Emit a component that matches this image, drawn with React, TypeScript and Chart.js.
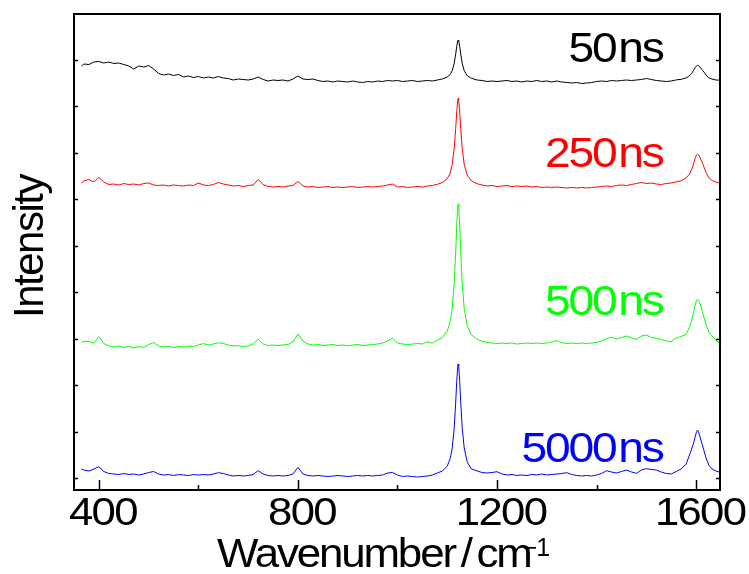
import React, { useEffect, useRef } from "react";
import { Chart, registerables } from "chart.js";

Chart.register(...registerables);

// Raman shift (cm^-1)
const wavenumbers = [
  365, 370, 380, 390, 400, 410, 420, 430, 440, 450,
  460, 470, 480, 490, 500, 510, 520, 530, 540, 550,
  560, 570, 580, 590, 600, 610, 620, 630, 640, 650,
  660, 670, 680, 690, 700, 710, 720, 730, 740, 750,
  760, 770, 780, 790, 800, 810, 820, 830, 840, 850,
  860, 870, 880, 890, 900, 910, 920, 930, 940, 950,
  960, 970, 980, 990, 1000, 1010, 1020, 1030, 1040, 1050,
  1060, 1070, 1080, 1090, 1100,
  1106, 1110, 1114, 1117, 1119, 1121, 1122, 1123, 1125, 1127, 1130, 1134, 1140, 1148, 1160, 1170,
  1180, 1190, 1200, 1210, 1220, 1230, 1240, 1250, 1260, 1270,
  1280, 1290, 1300, 1310, 1320, 1330, 1340, 1350, 1360, 1370,
  1380, 1390, 1400, 1410, 1420, 1430, 1440, 1450, 1460, 1470,
  1480, 1490, 1500, 1510, 1520, 1530, 1540, 1550,
  1560, 1570, 1580, 1586, 1591, 1595, 1598, 1601, 1603, 1605, 1608, 1612, 1616, 1620, 1626, 1632, 1640, 1646,
];

// Stacked intensities (a.u.)
const intensity50ns = [
  412, 414, 413.5, 416, 416.5, 415, 416, 414.5, 415, 413.5,
  412, 409, 412, 411, 412.5, 409, 404.5, 403, 404, 402.5,
  403.5, 401, 402, 400.5, 401.5, 400, 401, 400, 401.5, 400,
  399.5, 398, 399, 398.5, 398, 399, 401, 398.5, 397, 398,
  397.5, 398, 397, 399, 402, 399, 398.5, 399, 397.5, 396.5,
  397, 396, 397, 396.5, 396, 397, 396, 395.5, 396.5, 396,
  397, 396.5, 397.5, 397, 397.5, 396.5, 397, 397.5, 396.5, 397,
  397.5, 397, 398, 399, 401,
  403.6, 407.4, 414.8, 424.1, 431.6, 437.2, 438, 437.2, 431.6, 424.1, 414.8, 407.4, 402.4, 399.8, 398, 397.5,
  396.5, 397, 396.5, 397, 397.5, 396.5, 397, 396, 397, 396.5,
  397.5, 396.5, 397, 396, 397, 396, 395.5, 395, 395.5, 394.5,
  395, 395.5, 396.5, 397, 396.5, 397.5, 397, 397.5, 398, 397.5,
  398, 398.5, 399.5, 398.5, 397.5, 397, 396.5, 397,
  398.1, 398.7, 400.1, 402, 404.5, 407.7, 410.3, 412.2, 412.7, 412.2, 410.8, 408.3, 405.8, 403, 400.1, 398.9, 398, 397.8,
];

const intensity250ns = [
  294.7, 297, 298.5, 296, 300.5, 296, 293.5, 294, 293, 294.5,
  293.5, 294, 293, 294.5, 295, 293, 292.5, 293, 292, 293,
  292.5, 292, 293, 292.5, 295, 293, 292.5, 293.5, 295.5, 294,
  293, 292, 292.5, 291.5, 292.5, 293, 298.5, 293.5, 291.5, 291,
  291.5, 291, 292, 292.5, 296.5, 292, 291, 291.5, 290.5, 291,
  291.5, 290.5, 291, 290.5, 291, 291.5, 290.5, 291, 291.5, 291,
  291.5, 292, 293, 294, 291, 291.5, 290.5, 291, 291.5, 291,
  292, 292.5, 293.7, 295.4, 299.4,
  305, 313.8, 329.7, 349.8, 366, 377.9, 379.7, 377.9, 366, 349.8, 329.7, 313.8, 302.9, 297.3, 294.2, 293,
  292, 292.5, 291.5, 292, 292.5, 291.5, 292, 291.5, 292, 291,
  291.5, 290.5, 291, 290.5, 291, 290.5, 290, 290.5, 290, 290.5,
  290, 290.5, 291, 291.5, 292, 291.5, 292.5, 293, 292.5, 293.5,
  294.5, 295.5, 294.5, 295, 294, 293.5, 294.5, 295,
  296.1, 297.3, 300, 303.6, 308.4, 314.4, 319.5, 323.1, 324, 323.1, 320.4, 315.6, 310.8, 305.4, 300, 297.6, 295.8, 295,
];

const intensity500ns = [
  135.3, 136.5, 136.7, 134.7, 141.3, 134.5, 132, 131, 132, 130.5,
  131.5, 130, 131.5, 130.5, 133.5, 135.5, 132, 131, 131.5, 130.5,
  131.5, 131, 132, 131.5, 133, 134.5, 133, 134, 135.3, 134.5,
  133, 132, 132.5, 131.5, 132, 134, 138.7, 134, 132.5, 133,
  132.5, 133, 133.5, 136, 144, 137, 134, 133, 133.5, 132.5,
  133, 133.5, 132.5, 133, 132, 133, 133.5, 132.5, 133, 133.5,
  134, 135, 137, 139.7, 135, 134, 133.5, 134, 134.5, 134,
  136.3, 135, 137.8, 140.4, 146.9,
  156.5, 169.6, 194.8, 226.7, 252.3, 271.2, 274, 271.2, 252.3, 226.7, 194.8, 169.6, 152.3, 143.5, 138.6, 136.9,
  135.5, 135, 134.5, 135, 134.5, 135, 134, 134.5, 135, 134.5,
  135, 134.5, 135, 136, 137.3, 135.5, 134.5, 135, 134.5, 135,
  134.5, 135, 135.5, 137, 139.5, 140.7, 139, 140.5, 142, 140,
  138.7, 142, 143, 140.5, 139.7, 138.5, 137, 136.3,
  139.9, 141.6, 143.5, 150.4, 157.2, 165.6, 172.7, 177.7, 179, 177.7, 174, 167.2, 160.5, 153, 145.4, 142, 137.5, 135.5,
];

const intensity5000ns = [
  8.7, 8, 7, 9, 11.3, 6.5, 4.5, 4, 3.5, 4.5,
  3.5, 4, 3, 4, 5.5, 6.5, 4, 3, 3.5, 2.5,
  3.5, 3, 2.5, 3.5, 3, 3.5, 3, 4, 5.3, 4.5,
  3, 2, 2.5, 2, 2.5, 3.5, 7.3, 4, 2.5, 2,
  2.5, 2, 2.5, 4, 10.7, 4, 2.5, 2, 2.5, 2,
  1.5, 2, 2.5, 2, 1.5, 2, 2.5, 2, 2.5, 2,
  2.5, 3, 5, 5.5, 3, 1.5, 2, 1.5, 1, 1.5,
  2, 3, 5, 7, 11.9,
  19.6, 30.1, 50.3, 76, 96.6, 111.8, 114, 111.8, 96.6, 76, 50.3, 30.1, 16.2, 9.2, 7, 5.5,
  5, 5.5, 6.3, 4, 3, 3.5, 2.5, 3, 2.5, 3.5,
  3, 4, 3, 3.5, 4, 4.5, 5.3, 3.5, 2.5, 2,
  2.5, 2, 3, 4.5, 7.3, 6, 5, 6.5, 8, 6,
  4.7, 8, 9.3, 8.5, 8, 6, 4.5, 4,
  6.5, 9, 14, 22, 29, 35, 41, 46.5, 48, 46, 41, 34, 27, 20, 12.5, 9, 7, 6,
];

const seriesNames = ["50 ns", "250 ns", "500 ns", "5000 ns"];
const seriesValues = [intensity50ns, intensity250ns, intensity500ns, intensity5000ns];
const seriesColors = ["#000000", "#ff0000", "#00ff00", "#0000ff"];

const xTickValues = [400, 800, 1200, 1600];
const xMinorTickValues = [600, 1000, 1400];
const xTickLabels = ["400", "800", "1200", "1600"];
const yTickValues = [0, 46.44, 92.88, 139.32, 185.76, 232.2, 278.64, 325.08, 371.52, 417.96];

const xTitle = "Wavenumber / cm";
const xTitleSup = "\u22121";
const yTitle = "Intensity";

// label anchors (right edge wavenumber, baseline intensity)
const labelAnchorX = 1533;
const labelAnchorY = [416, 311.3, 163, 16.3];

const FONT = '"Liberation Sans", Arial, sans-serif';

function drawText(
  ctx: CanvasRenderingContext2D,
  text: string,
  x: number,
  y: number,
  size: number,
  opts: { align?: string; stretch?: number; spacing?: number; wordSpacing?: number; color?: string } = {}
) {
  const { align = "left", stretch = 1, spacing = 0, wordSpacing = 0, color = "#000" } = opts;
  ctx.save();
  ctx.font = `${size}px ${FONT}`;
  (ctx as any).letterSpacing = `${spacing}px`;
  (ctx as any).wordSpacing = `${wordSpacing}px`;
  ctx.fillStyle = color;
  ctx.textBaseline = "alphabetic";
  ctx.textAlign = "left";
  const w = ctx.measureText(text).width * stretch;
  let x0 = x;
  if (align === "center") x0 = x - w / 2;
  else if (align === "right") x0 = x - w;
  ctx.translate(x0, y);
  ctx.scale(stretch, 1);
  ctx.fillText(text, 0, 0);
  ctx.restore();
  return { x0, w };
}

const decorPlugin = {
  id: "decor",
  afterDraw(chart: any) {
    const { ctx, chartArea: a, scales } = chart;
    const xs = scales.x;
    const ys = scales.y;
    ctx.save();
    // frame
    ctx.strokeStyle = "#000";
    ctx.lineWidth = 2;
    ctx.strokeRect(a.left, a.top, a.right - a.left, a.bottom - a.top);
    // ticks
    ctx.lineWidth = 1.5;
    ctx.beginPath();
    xs.ticks.forEach((t: any) => {
      const px = Math.round(xs.getPixelForValue(t.value)) + 0.5;
      ctx.moveTo(px, a.bottom);
      ctx.lineTo(px, a.bottom - 10);
    });
    xMinorTickValues.forEach((v) => {
      const px = Math.round(xs.getPixelForValue(v)) + 0.5;
      ctx.moveTo(px, a.bottom);
      ctx.lineTo(px, a.bottom - 5);
    });
    ys.ticks.forEach((t: any) => {
      const py = Math.round(ys.getPixelForValue(t.value)) + 0.5;
      ctx.moveTo(a.left, py);
      ctx.lineTo(a.left + 4, py);
      ctx.moveTo(a.right, py);
      ctx.lineTo(a.right - 4, py);
    });
    ctx.stroke();
    ctx.restore();

    // tick labels
    xs.ticks.forEach((t: any, i: number) => {
      const px = xs.getPixelForValue(t.value);
      drawText(ctx, xTickLabels[i], px + 4, a.bottom + 35, 39, { align: "center", stretch: 1.12, spacing: -1.5 });
    });

    // x title
    const m = drawText(ctx, xTitle, a.left + 143, 567, 41, { stretch: 1.07, spacing: -2, wordSpacing: -4 });
    drawText(ctx, xTitleSup, m.x0 + m.w - 8, 556, 25, { spacing: -1 });

    // y title
    ctx.save();
    ctx.translate(43, 318);
    ctx.rotate(-Math.PI / 2);
    drawText(ctx, yTitle, 0, 0, 42, { spacing: -1.5 });
    ctx.restore();

    // series labels
    seriesNames.forEach((name, i) => {
      const px = xs.getPixelForValue(labelAnchorX);
      const py = ys.getPixelForValue(labelAnchorY[i]);
      drawText(ctx, name, px, py, 42, { align: "right", stretch: 1.1, spacing: -2, wordSpacing: -7, color: seriesColors[i] });
    });
  },
};

export default function App() {
  const ref = useRef<HTMLCanvasElement>(null);
  useEffect(() => {
    const chart = new Chart(ref.current as HTMLCanvasElement, {
      type: "line",
      data: {
        datasets: seriesValues.map((vals, i) => ({
          label: seriesNames[i],
          data: wavenumbers.map((w, j) => ({ x: w, y: vals[j] })),
          borderColor: seriesColors[i],
          backgroundColor: seriesColors[i],
          borderWidth: 1,
          pointRadius: 0,
          tension: 0,
          fill: false,
        })),
      },
      options: {
        responsive: false,
        animation: false,
        devicePixelRatio: 1,
        layout: { padding: { top: 14, right: 29, left: 0, bottom: 0 } },
        plugins: { legend: { display: false }, tooltip: { enabled: false } },
        scales: {
          x: {
            type: "linear",
            min: 350,
            max: 1648,
            grid: { display: false },
            border: { display: false },
            ticks: { display: false },
            afterBuildTicks: (s: any) => {
              s.ticks = xTickValues.map((v) => ({ value: v }));
            },
            afterFit: (s: any) => {
              s.height = 84;
            },
          },
          y: {
            type: "linear",
            min: -12,
            max: 464,
            grid: { display: false },
            border: { display: false },
            ticks: { display: false },
            afterBuildTicks: (s: any) => {
              s.ticks = yTickValues.map((v) => ({ value: v }));
            },
            afterFit: (s: any) => {
              s.width = 74;
            },
          },
        },
      } as any,
      plugins: [decorPlugin],
    });
    return () => chart.destroy();
  }, []);
  return (
    <div style={{ position: "absolute", left: 0, top: 0, width: 749, height: 574, background: "#fff" }}>
      <canvas ref={ref} width={749} height={574} style={{ width: 749, height: 574, display: "block" }} />
    </div>
  );
}
